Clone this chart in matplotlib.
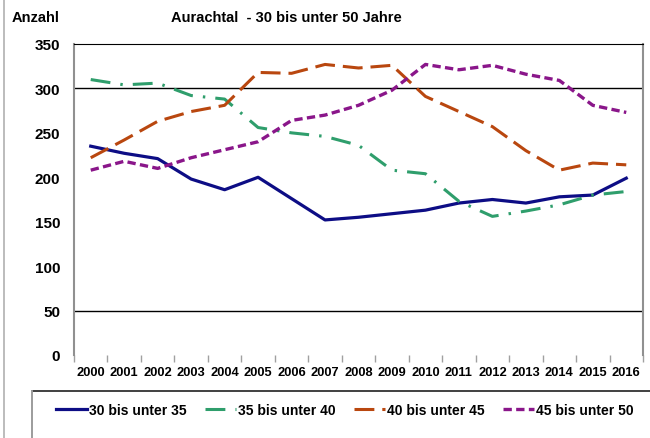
import numpy as np
import matplotlib
matplotlib.use("Agg")
import matplotlib.pyplot as plt
from matplotlib.lines import Line2D
from matplotlib.patches import Rectangle

plt.rcParams['font.family'] = ['Liberation Sans', 'DejaVu Sans']

years = [str(y) for y in range(2000, 2017)]
s30 = [235, 227, 221, 198, 186, 200, 176, 152, 155, 159, 163, 171, 175, 171, 178, 180, 199]
s35 = [310, 304, 306, 292, 288, 256, 250, 246, 236, 208, 204, 173, 156, 162, 169, 180, 184]
s40 = [222, 242, 263, 274, 281, 318, 317, 327, 323, 326, 291, 274, 257, 230, 208, 216, 214]
s45 = [208, 218, 210, 222, 231, 240, 264, 270, 281, 298, 327, 321, 326, 316, 309, 281, 273]
names = ["30 bis unter 35", "35 bis unter 40", "40 bis unter 45", "45 bis unter 50"]

fig = plt.figure(figsize=(6.5, 4.39), dpi=100)
ax = fig.add_axes([74/650, 83/439, 569/650, 311/439])
x = np.arange(len(years))

ax.plot(x, s30, color='#0d0d85', lw=2.3, label=names[0])
ax.plot(x, s35, color='#2f9e6c', lw=2.2, dashes=(6.5, 3.3, 0.8, 3.3), label=names[1])
ax.plot(x, s40, color='#b9470f', lw=2.2, dashes=(6.5, 2.6), label=names[2])
ax.plot(x, s45, color='#8a168a', lw=2.4, dashes=(2.5, 1.3), label=names[3])

for g in [50, 300]:
    ax.axhline(g, color='black', lw=1, zorder=0)

ax.set_xlim(-0.5, 16.5)
ax.set_ylim(0, 350)
ax.set_yticks(range(0, 351, 50))
ax.set_xticks(x)
ax.set_xticklabels(years)
ax.set_xticks(np.arange(-0.5, 17, 1), minor=True)
ax.tick_params(axis='x', which='major', length=0, pad=8, labelsize=9.3)
ax.tick_params(axis='x', which='minor', length=5, color='#a0a0a0', width=1)
ax.tick_params(axis='y', length=0, pad=10, labelsize=11)
for lab in ax.get_xticklabels() + ax.get_yticklabels():
    lab.set_fontweight('bold')

ax.spines['bottom'].set_visible(False)
ax.spines['top'].set_color('black')
ax.spines['left'].set_color('#909090')
ax.spines['right'].set_color('#909090')
ax.spines['left'].set_linewidth(1.5)
ax.spines['right'].set_linewidth(1.5)

fig.text(12/650, 1 - 18/439, "Anzahl", fontsize=10.5, fontweight='bold', va='center')
fig.text(171/650, 1 - 18/439, "Aurachtal  - 30 bis unter 50 Jahre", fontsize=10.5,
         fontweight='bold', va='center')

# outer border and legend box
fig.add_artist(Line2D([4/650, 4/650], [0, 1], color='#b0b0b0', lw=1.2))
fig.add_artist(Rectangle((32/650, -0.05), 0.97, (439-392)/439 + 0.05, fill=False,
                         edgecolor='#202020', lw=1.2))
fig.add_artist(Line2D([32/650, 32/650], [0, (439-392)/439], color='#b0b0b0', lw=1.2))

leg = fig.legend(loc='center', bbox_to_anchor=(345/650, 28/439), ncol=4, frameon=False,
                 handlelength=2.2, handletextpad=0.2, columnspacing=1.3,
                 prop={'weight': 'bold', 'size': 10})

fig.savefig("out.png", dpi=100)
